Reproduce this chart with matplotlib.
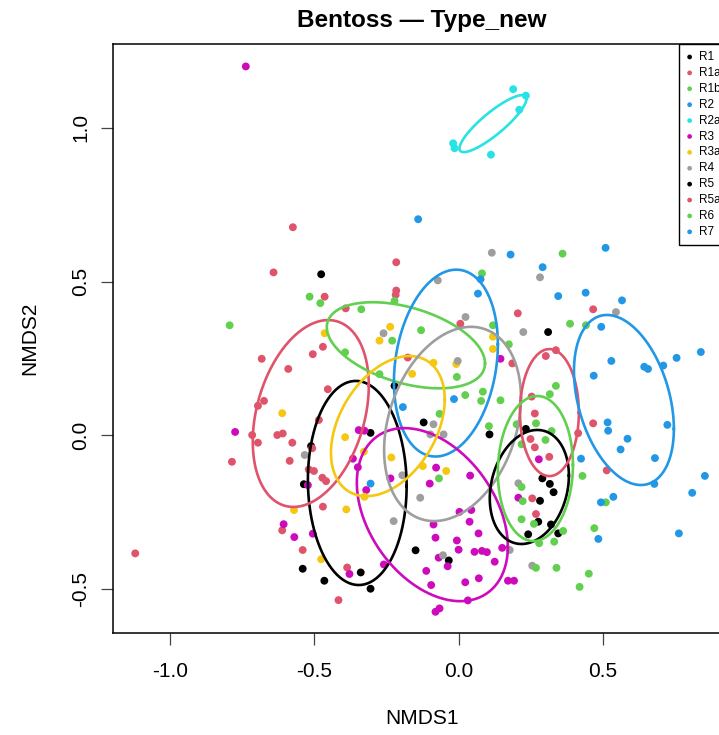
import numpy as np
import matplotlib
matplotlib.use("Agg")
import matplotlib.pyplot as plt

plt.rcParams["font.family"] = ["Liberation Sans", "DejaVu Sans"]
plt.rcParams["axes.unicode_minus"] = False

# group labels and colours (R default palette, recycled)
groups = ["R1", "R1a", "R1b", "R2", "R2a", "R3", "R3a", "R4", "R5", "R5a", "R6", "R7"]
colors = ["black", "#DF536B", "#61D04F", "#2297E6", "#28E2E5", "#CD0BBC",
          "#F5C710", "#9E9E9E", "black", "#DF536B", "#61D04F", "#2297E6"]

# site scores (NMDS1, NMDS2) per group
r1 = [(-0.476, 0.524), (-0.222, 0.161), (-0.511, -0.035), (-0.536, -0.159), (-0.540, -0.434),
      (-0.465, -0.473), (-0.305, 0.008), (-0.339, -0.446), (-0.305, -0.499), (-0.149, -0.374),
      (-0.121, 0.042), (-0.034, -0.407)]
r1a = [(-0.574, 0.677), (-0.641, 0.530), (-0.464, 0.451), (-0.470, 0.288), (-0.505, 0.264),
       (-0.682, 0.249), (-0.590, 0.216), (-0.695, 0.096), (-0.674, 0.112), (-0.216, 0.563),
       (-0.216, 0.471), (-0.218, 0.457), (-0.391, 0.413), (-0.176, 0.253), (-0.453, 0.150),
       (-0.715, 0.001), (-0.695, -0.024), (-0.628, 0.001), (-0.609, 0.006), (-0.576, -0.024),
       (-0.507, -0.042), (-0.785, -0.086), (-0.585, -0.083), (-0.519, -0.111), (-0.501, -0.116),
       (-0.472, -0.138), (-0.459, -0.149), (-0.470, -0.232), (-0.611, -0.309), (-0.540, -0.373),
       (-1.120, -0.384), (-0.484, 0.050), (-0.386, -0.430), (-0.416, -0.536)]
r1b = [(-0.516, 0.451), (-0.479, 0.430), (-0.793, 0.358), (-0.222, 0.437), (-0.337, 0.410),
       (0.119, 0.358), (-0.130, 0.342), (-0.230, 0.308), (-0.393, 0.270), (-0.006, 0.190),
       (-0.274, 0.199), (0.081, 0.527), (-0.066, 0.070), (-0.068, -0.140), (0.023, 0.131)]
r2 = [(-0.140, 0.703), (0.180, 0.588), (0.076, 0.508), (0.067, 0.461), (-0.016, 0.118),
      (-0.193, 0.092), (-0.305, -0.157)]
r2a = [(0.189, 1.126), (0.233, 1.105), (0.210, 1.059), (-0.019, 0.950), (-0.014, 0.934),
       (0.112, 0.913)]
r3 = [(-0.737, 1.200), (0.145, 0.249), (-0.774, 0.011), (-0.522, -0.162), (-0.606, -0.289),
      (-0.569, -0.331), (-0.505, -0.320), (-0.346, 0.017), (-0.326, 0.015), (-0.366, -0.076),
      (-0.349, -0.104), (-0.078, -0.105), (0.040, -0.131), (-0.100, -0.157), (-0.236, -0.140),
      (-0.320, -0.178), (0.003, -0.249), (0.044, -0.243), (0.038, -0.281), (-0.087, -0.290),
      (0.069, -0.319), (-0.080, -0.333), (-0.006, -0.342), (0.000, -0.372), (0.055, -0.379),
      (0.081, -0.376), (0.098, -0.380), (0.125, -0.411), (0.151, -0.366), (-0.069, -0.398),
      (-0.038, -0.426), (-0.259, -0.420), (-0.378, -0.451), (-0.112, -0.441), (0.070, -0.465),
      (0.023, -0.478), (0.171, -0.473), (0.192, -0.473), (-0.095, -0.487), (0.032, -0.537),
      (-0.080, -0.574), (-0.066, -0.563), (0.278, -0.078), (0.207, -0.203)]
r3a = [(-0.464, 0.332), (-0.611, 0.072), (-0.237, 0.353), (-0.274, 0.308), (0.119, 0.281),
       (0.119, 0.321), (-0.008, 0.232), (-0.087, 0.236), (-0.161, 0.200), (-0.570, -0.243),
       (-0.476, -0.403), (-0.393, -0.006), (-0.328, -0.053), (-0.233, -0.072), (-0.124, -0.100),
       (-0.043, -0.116), (-0.326, -0.200), (-0.389, -0.241)]
r4 = [(0.115, 0.594), (-0.072, 0.504), (0.024, 0.385), (0.224, 0.336), (-0.260, 0.332),
      (-0.003, 0.242), (0.282, 0.514), (0.545, 0.401), (-0.533, -0.064), (-0.087, 0.036),
      (-0.098, 0.003), (-0.052, 0.003), (-0.195, -0.130), (-0.133, -0.203), (-0.225, -0.279),
      (0.177, -0.373), (-0.054, -0.390), (0.207, -0.156), (0.255, -0.424)]
r5 = [(0.310, 0.336), (0.107, 0.003), (0.233, 0.021), (0.290, -0.140), (0.316, -0.158),
      (0.329, -0.185), (0.282, -0.213), (0.276, -0.281), (0.320, -0.290), (0.345, -0.319),
      (0.241, -0.322)]
r5a = [(0.205, 0.397), (0.186, 0.234), (0.466, 0.410), (0.302, 0.258), (0.337, 0.277),
       (0.253, 0.126), (0.264, 0.071), (0.466, 0.039), (0.414, 0.007), (0.249, -0.012),
       (0.264, -0.039), (0.314, -0.070), (0.513, -0.114), (0.255, -0.205), (0.268, -0.256),
       (0.006, 0.363)]
r6 = [(0.360, 0.591), (0.386, 0.363), (0.441, 0.358), (0.174, 0.296), (0.337, 0.161),
      (0.316, 0.134), (0.084, 0.142), (0.078, 0.112), (0.145, 0.114), (0.105, 0.030),
      (0.268, 0.039), (0.201, 0.036), (0.322, 0.014), (0.301, -0.015), (0.218, -0.029),
      (0.429, -0.132), (0.218, -0.168), (0.222, -0.214), (0.510, -0.218), (0.218, -0.273),
      (0.261, -0.288), (0.362, -0.311), (0.279, -0.351), (0.331, -0.346), (0.470, -0.302),
      (0.268, -0.431), (0.339, -0.431), (0.451, -0.450), (0.419, -0.493)]
r7 = [(0.509, 0.610), (0.291, 0.547), (0.345, 0.453), (0.440, 0.464), (0.566, 0.439),
      (0.494, 0.353), (0.839, 0.271), (0.755, 0.252), (0.529, 0.242), (0.643, 0.223),
      (0.656, 0.216), (0.709, 0.227), (0.468, 0.194), (0.516, 0.042), (0.518, 0.015),
      (0.723, 0.034), (0.585, -0.011), (0.561, -0.046), (0.424, -0.076), (0.680, -0.074),
      (0.853, -0.132), (0.678, -0.158), (0.809, -0.187), (0.536, -0.200), (0.493, -0.218),
      (0.484, -0.337), (0.763, -0.319)]
scores = [r1, r1a, r1b, r2, r2a, r3, r3a, r4, r5, r5a, r6, r7]

# ordiellipse per group: centre, x/y half-extent and correlation
ell_cx = [-0.351, -0.512, -0.1825, -0.044, 0.119, -0.091, -0.245, -0.021, 0.245, 0.3145, 0.266, 0.5726]
ell_cy = [-0.155, 0.071, 0.293, 0.235, 1.014, -0.258, 0.030, 0.037, -0.168, 0.074, -0.108, 0.115]
ell_wx = [0.171, 0.201, 0.274, 0.180, 0.116, 0.2615, 0.197, 0.237, 0.137, 0.102, 0.130, 0.173]
ell_hy = [0.332, 0.304, 0.140, 0.304, 0.0927, 0.2815, 0.228, 0.316, 0.1855, 0.2066, 0.236, 0.2766]
ell_rho = [-0.03, 0.30, -0.42, 0.20, 0.87, -0.37, 0.38, 0.27, 0.20, 0.0, 0.05, -0.34]

fig = plt.figure(figsize=(7.19, 7.35), dpi=100)
ax = fig.add_axes([113 / 719, 102 / 735, 617 / 719, 589 / 735])

for name, col, pts in zip(groups, colors, scores):
    xs = [p[0] for p in pts]
    ys = [p[1] for p in pts]
    ax.scatter(xs, ys, s=32, color=col, edgecolors="none", label=name, zorder=2)

t = np.linspace(0, 2 * np.pi, 200)
circle = np.vstack([np.cos(t), np.sin(t)])
for i, col in enumerate(colors):
    cov = np.array([[ell_wx[i] ** 2, ell_rho[i] * ell_wx[i] * ell_hy[i]],
                    [ell_rho[i] * ell_wx[i] * ell_hy[i], ell_hy[i] ** 2]])
    L = np.linalg.cholesky(cov)
    xy = L @ circle
    ax.plot(ell_cx[i] + xy[0], ell_cy[i] + xy[1], color=col, lw=1.9, zorder=3)

ax.set_xlim(-1.197, 0.94)
ax.set_ylim(-0.643, 1.273)
ax.set_xticks([-1.0, -0.5, 0.0, 0.5])
ax.set_yticks([-0.5, 0.0, 0.5, 1.0])
ax.tick_params(length=8.6, width=0.9, color="#444444", labelsize=15)
ax.tick_params(axis="x", pad=12.5)
ax.tick_params(axis="y", pad=8, labelrotation=90)
for lab in ax.get_yticklabels():
    lab.set_va("center")
for sp in ax.spines.values():
    sp.set_linewidth(1.1)

ax.set_xlabel("NMDS1", fontsize=15)
ax.set_ylabel("NMDS2", fontsize=15)
ax.xaxis.set_label_coords(0.5, (633 - 718) / 589)
ax.xaxis.label.set_va("center")
ax.yaxis.set_label_coords((30 - 113) / 617, 0.5)
ax.yaxis.label.set_va("center")

fig.text((113 + 730) / 2 / 719, 1 - 20 / 735, "Bentoss \u2014 Type_new",
         ha="center", va="center", fontsize=17.5, fontweight="bold")

leg = ax.legend(loc="upper left", bbox_to_anchor=((679 - 113) / 617, 1.0), borderaxespad=0,
                fontsize=8.5, markerscale=0.6, handlelength=0.6, handletextpad=0.5,
                labelspacing=0.33, borderpad=0.6, fancybox=False, framealpha=1,
                edgecolor="black")
leg.get_frame().set_linewidth(1.0)

plt.savefig("out.png", dpi=100)
